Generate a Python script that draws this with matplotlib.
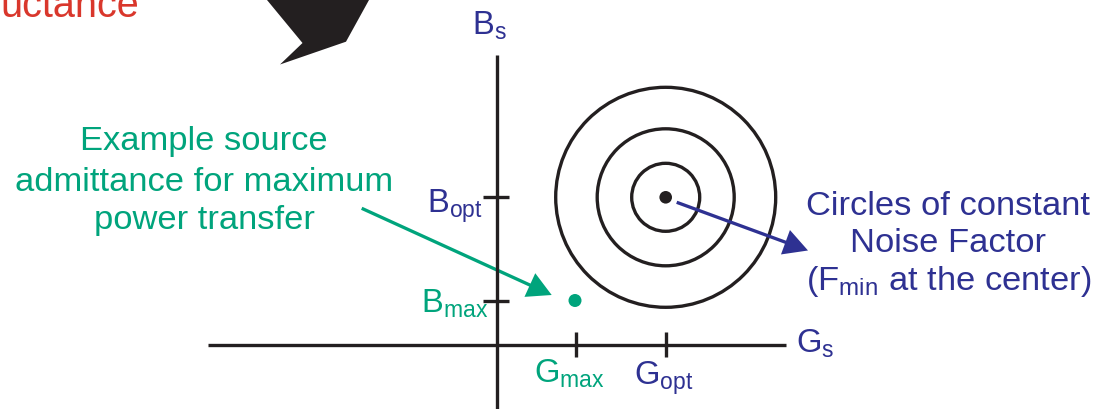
import matplotlib
matplotlib.use("Agg")
import matplotlib.pyplot as plt
from matplotlib.patches import Circle, Polygon, FancyArrow

plt.rcParams['font.family'] = ['Liberation Sans', 'DejaVu Sans']
plt.rcParams['mathtext.fontset'] = 'custom'
plt.rcParams['mathtext.rm'] = 'Liberation Sans'
plt.rcParams['mathtext.it'] = 'Liberation Sans'

# ---- data (diagram coordinates, pixel-like units, y downward) ----
W, H = 1096, 409
origin = (496.5, 345.0)
g_axis_end = 786.0
g_axis_start = 208.0
b_axis_top = 55.0
g_ticks = [575.5, 665.5]
b_ticks = [197.0, 301.0]
g_tick_labels = [r'G$_{\mathregular{max}}$', r'G$_{\mathregular{opt}}$']
b_tick_labels = [r'B$_{\mathregular{opt}}$', r'B$_{\mathregular{max}}$']
opt_center = (665.7, 197.3)
circle_radii = [34.0, 68.5, 110.0]
max_point = (575.0, 300.5)
green_lines = ["Example source", "admittance for maximum", "power transfer"]
green_baselines = [150, 191, 229]
blue_lines = ["Circles of constant", "Noise Factor", r"(F$_{\mathregular{min}}$ at the center)"]
blue_baselines = [215, 252.5, 290]
big_arrow = [(267, 0), (302.5, 43), (280, 64.5), (346, 41.7), (369, 0)]

BLUE = '#2e3192'
GREEN = '#00a47c'
RED = '#d9372c'
BLACK = '#231f20'
FS = 24.8
LW = 2.4

fig = plt.figure(figsize=(W / 100, H / 100), dpi=100)
ax = fig.add_axes([0, 0, 1, 1])
ax.set_xlim(0, W)
ax.set_ylim(H, 0)
ax.set_aspect('equal')
ax.axis('off')

# red cut-off title
ax.text(0, 17.3, "uctance", color=RED, fontsize=28.5, ha='left', va='baseline')

# big black arrow
ax.add_patch(Polygon(big_arrow, closed=True, facecolor=BLACK, edgecolor='none'))

# axes
ax.plot([g_axis_start, g_axis_end], [origin[1], origin[1]], color=BLACK, lw=LW, solid_capstyle='butt')
ax.plot([origin[0], origin[0]], [b_axis_top, H + 5], color=BLACK, lw=LW, solid_capstyle='butt')

# ticks
for gx in g_ticks:
    ax.plot([gx, gx], [origin[1] - 13.5, origin[1] + 12], color=BLACK, lw=LW, solid_capstyle='butt')
for by in b_ticks:
    ax.plot([origin[0] - 14, origin[0] + 12], [by, by], color=BLACK, lw=LW, solid_capstyle='butt')

# axis labels
ax.text(472, 35, r'B$_{\mathregular{s}}$', color=BLUE, fontsize=FS * 0.95, ha='left', va='baseline')
ax.text(796, 353, r'G$_{\mathregular{s}}$', color=BLUE, fontsize=FS * 0.95, ha='left', va='baseline')

# tick labels
ax.text(534, 383, g_tick_labels[0], color=GREEN, fontsize=FS * 0.95, ha='left', va='baseline')
ax.text(634, 385, g_tick_labels[1], color=BLUE, fontsize=FS * 0.95, ha='left', va='baseline')
ax.text(427, 213, b_tick_labels[0], color=BLUE, fontsize=FS * 0.95, ha='left', va='baseline')
ax.text(421, 313, b_tick_labels[1], color=GREEN, fontsize=FS * 0.95, ha='left', va='baseline')

# circles of constant noise factor
for r in circle_radii:
    ax.add_patch(Circle(opt_center, r, fill=False, edgecolor=BLACK, lw=LW))
ax.add_patch(Circle(opt_center, 6.3, facecolor=BLACK, edgecolor='none'))

# max power point
ax.add_patch(Circle(max_point, 6.5, facecolor=GREEN, edgecolor='none'))

# green arrow
gs, ge = (361.7, 208.3), (551.7, 295.0)
ax.add_patch(FancyArrow(gs[0], gs[1], ge[0] - gs[0], ge[1] - gs[1], width=3.3,
                        head_width=26, head_length=24, length_includes_head=True,
                        facecolor=GREEN, edgecolor='none'))
# blue arrow
bs, be = (676.7, 202.3), (808.0, 250.5)
ax.add_patch(FancyArrow(bs[0], bs[1], be[0] - bs[0], be[1] - bs[1], width=3.3,
                        head_width=26, head_length=24, length_includes_head=True,
                        facecolor=BLUE, edgecolor='none'))

# text blocks
for s, yb in zip(green_lines, green_baselines):
    ax.text(204, yb, s, color=GREEN, fontsize=FS, ha='center', va='baseline')
for s, yb in zip(blue_lines, blue_baselines):
    ax.text(948.5, yb, s, color=BLUE, fontsize=FS, ha='center', va='baseline')

fig.savefig('out.png', dpi=100)
